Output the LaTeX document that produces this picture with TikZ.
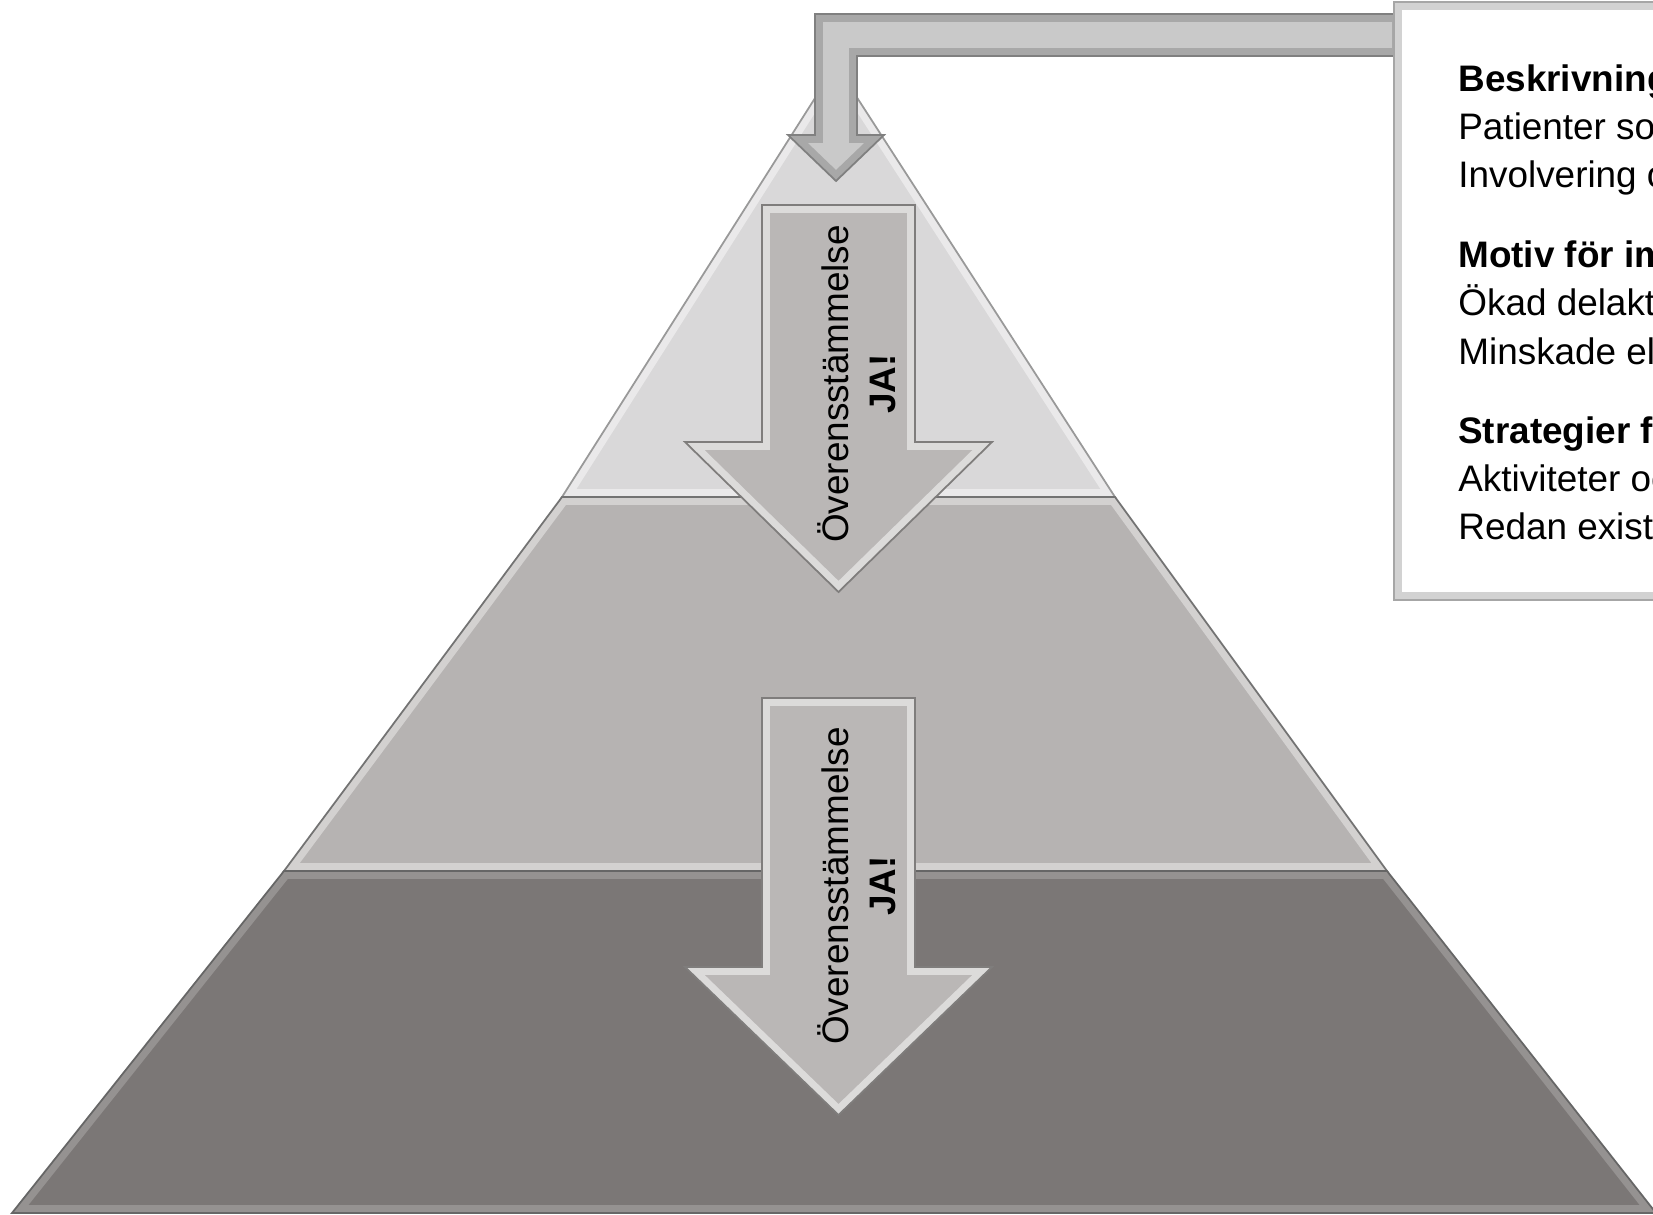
\documentclass[tikz,border=0pt]{standalone}
\usepackage{fontspec}
\setmainfont{Liberation Sans}
\definecolor{tiertop}{HTML}{D9D8D9}
\definecolor{tiermid}{HTML}{B6B3B2}
\definecolor{tierlow}{HTML}{7B7776}
\definecolor{arrowfill}{HTML}{BAB7B6}
\definecolor{bendfill}{HTML}{C9C9C9}
\definecolor{edgegray}{HTML}{7F7D7C}

% fill, inner band, outline, path
\newcommand{\bevelshape}[4]{%
  \fill[#1] #4;
  \begin{scope}
    \clip #4;
    \draw[#2, line width=9pt, line join=miter] #4;
  \end{scope}
  \draw[#3, line width=1pt, line join=miter] #4;
}

\begin{document}
\begin{tikzpicture}[x=0.02cm,y=-0.02cm,
    arrowtext/.style={rotate=90,anchor=base,font=\fontsize{21}{25}\selectfont},
    info/.style={anchor=base west,inner sep=0pt,font=\fontsize{21}{27}\selectfont}]
  \useasboundingbox (0,0) rectangle (1653,1214);

  % pyramid tiers
  \bevelshape{tiertop}{white,opacity=.45}{gray!80}{(836,65) -- (1115,497) -- (562,497) -- cycle}
  \bevelshape{tiermid}{white,opacity=.4}{gray!90!black}{(562,497) -- (1115,497) -- (1387,871) -- (284,871) -- cycle}
  \bevelshape{tierlow}{white,opacity=.2}{black!60}{(284,871) -- (1387,871) -- (1656,1213) -- (12,1213) -- cycle}

  % down arrows
  \bevelshape{arrowfill}{white,opacity=.5}{edgegray}{(762,205) -- (915,205) -- (915,442) -- (992,442) -- (838.5,592) -- (685,442) -- (762,442) -- cycle}
  \bevelshape{arrowfill}{white,opacity=.5}{edgegray}{(762,698) -- (915,698) -- (915,967) -- (992,967) -- (838.5,1115) -- (685,967) -- (762,967) -- cycle}

  % bent arrow from the box
  \bevelshape{bendfill}{gray,opacity=.45}{gray}{(1400,14) -- (815,14) -- (815,135) -- (788,135) -- (836,181) -- (884,135) -- (857,135) -- (857,56) -- (1400,56) -- cycle}

  % text box
  \bevelshape{white}{gray!35}{gray!70}{(1394,2) -- (1720,2) -- (1720,600) -- (1394,600) -- cycle}

  \node[arrowtext] (agreeA) at (848,384) {Överensstämmelse};
  \node[arrowtext,font=\fontsize{21}{25}\selectfont\bfseries] (yesA) at (895,384) {JA!};
  \node[arrowtext] (agreeB) at (848,886) {Överensstämmelse};
  \node[arrowtext,font=\fontsize{21}{25}\selectfont\bfseries] (yesB) at (895,886) {JA!};

  \foreach \n/\yy/\txt in {1/91/{\textbf{Beskrivning}}, 2/139/{Patienter so}, 3/187/{Involvering o},
      4/267/{\textbf{Motiv för im}}, 5/315/{Ökad delakt}, 6/364/{Minskade el},
      7/443/{\textbf{Strategier f}}, 8/491/{Aktiviteter oc}, 9/539/{Redan existe}}
    \node[info] (info\n) at (1458,\yy) {\txt};
\end{tikzpicture}
\end{document}
